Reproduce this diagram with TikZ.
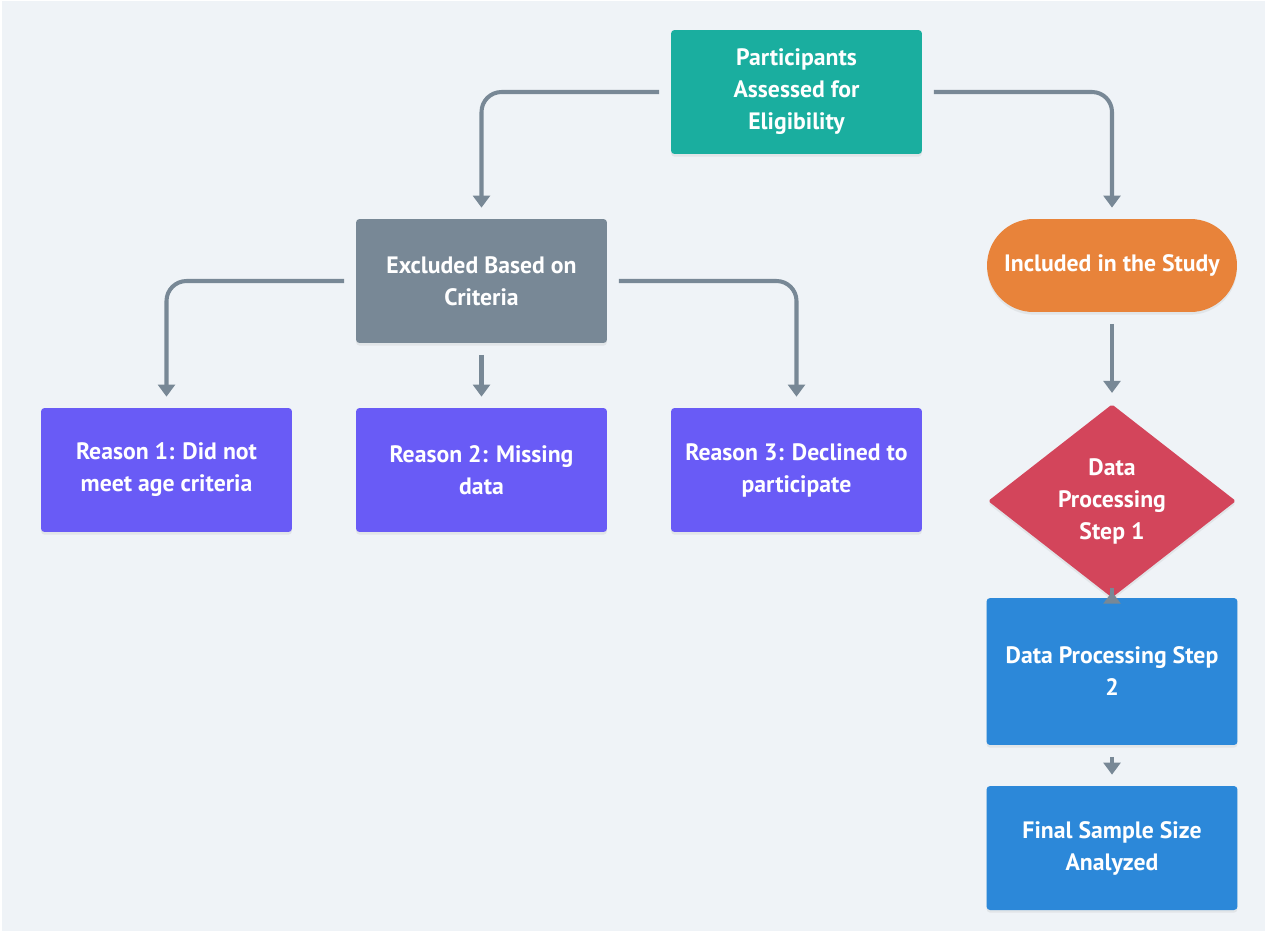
\documentclass[tikz,border=0pt]{standalone}
\usepackage{fontspec}
\setmainfont{PT Sans}
\usetikzlibrary{positioning, arrows.meta, shapes.geometric, shadows}
\definecolor{bgc}{HTML}{EFF3F7}
\definecolor{linec}{HTML}{788896}
\definecolor{tealc}{HTML}{1AAE9F}
\definecolor{greyc}{HTML}{788896}
\definecolor{orangec}{HTML}{E8833A}
\definecolor{purplec}{HTML}{695BF6}
\definecolor{redc}{HTML}{D3455B}
\definecolor{bluec}{HTML}{2C88D9}
\tikzset{
  x=0.02cm, y=-0.02cm,
  box/.style = {rectangle, rounded corners=2pt, minimum width=5.02cm, minimum height=2.48cm,
                text=white, align=center, inner sep=0pt,
                font=\bfseries\fontsize{13.5}{18.2}\selectfont,
                drop shadow={opacity=0.12, shadow xshift=0pt, shadow yshift=-1.5pt}},
  flow/.style = {-{Triangle[width=9.5pt, length=6.8pt]}, draw=linec, line width=2.3pt,
                 rounded corners=0.4cm, shorten <=0.23cm, shorten >=0.22cm}
}
\begin{document}
\begin{tikzpicture}
    \useasboundingbox (0,0) rectangle (1268,934);
    \fill[white] (0,0) rectangle (1268,934);
    \fill[bgc] (2,1) rectangle (1265,931);

    \node[box, fill=tealc] (part) at (796.5,92) {Participants\\Assessed for\\Eligibility};
    \node[box, fill=greyc] (excl) at (481.5,281) {Excluded Based on\\Criteria};
    \node[box, fill=orangec, minimum width=5cm, minimum height=1.86cm, rounded corners=0.93cm]
        (incl) at (1112,265.5) {Included in the Study};
    \node[box, fill=purplec] (r1) at (166.5,470) {Reason 1: Did not\\meet age criteria};
    \node[box, fill=purplec] (r2) at (481.5,470) {Reason 2: Missing\\data};
    \node[box, fill=purplec] (r3) at (796.5,470) {Reason 3: Declined to\\participate};
    \node[box, diamond, fill=redc, minimum width=4.96cm, minimum height=3.68cm, rounded corners=1pt]
        (dp1) at (1112,501) {Data\\Processing\\Step 1};
    \node[box, fill=bluec, minimum height=2.94cm] (dp2) at (1112,671.5) {Data Processing Step\\2};
    \node[box, fill=bluec] (fin) at (1112,848) {Final Sample Size\\Analyzed};

    \draw[flow] (part.west) -| (excl.north);
    \draw[flow] (part.east) -| (incl.north);
    \draw[flow] (excl.west) -| (r1.north);
    \draw[flow] (excl.south) -- (r2.north);
    \draw[flow] (excl.east) -| (r3.north);
    \draw[flow] (incl.south) -- (dp1.north);
    \draw[flow, shorten <=-0.2cm, shorten >=-0.12cm] (dp1.south) -- (dp2.north);
    \draw[flow] (dp2.south) -- (fin.north);
\end{tikzpicture}
\end{document}
